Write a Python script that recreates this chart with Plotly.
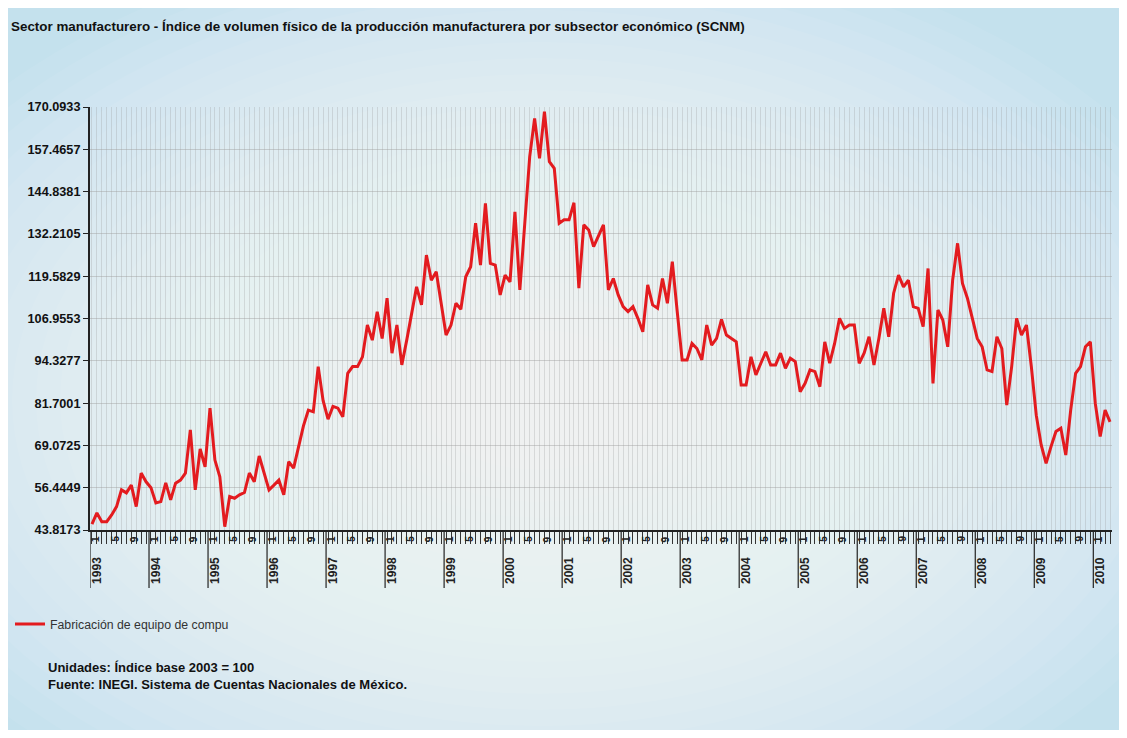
import plotly.graph_objects as go

title = ("Sector manufacturero - Índice de volumen físico de la producción "
         "manufacturera por subsector económico (SCNM)")
series_name = "Fabricación de equipo de compu"
note_lines = ["Unidades: Índice base 2003 = 100",
              "Fuente: INEGI. Sistema de Cuentas Nacionales de México."]

years = list(range(1993, 2011))
labeled_months = [1, 5, 9]

# monthly index values, Jan 1993 .. Apr 2010
values = [
    45.6, 48.9, 46.3, 46.3, 48.3, 50.8, 55.8, 54.9, 57.2, 50.8, 60.8, 58.2,      # 1993
    56.4, 51.9, 52.3, 57.9, 52.8, 57.8, 58.7, 60.8, 73.7, 55.8, 68.0, 62.7,      # 1994
    80.2, 64.7, 59.7, 44.8, 53.8, 53.3, 54.3, 55.0, 60.8, 58.2, 65.9, 60.8,      # 1995
    55.8, 57.2, 58.7, 54.3, 64.2, 62.3, 68.3, 74.9, 79.6, 79.1, 92.6, 82.4,      # 1996
    76.9, 80.7, 80.2, 77.6, 90.6, 92.6, 92.6, 95.5, 105.0, 100.5, 109.0, 101.0,  # 1997
    113.0, 96.6, 105.0, 93.1, 100.5, 109.0, 116.4, 111.0, 125.9, 118.4, 120.9, 111.5,  # 1998
    102.0, 105.0, 111.5, 109.7, 119.4, 122.4, 135.4, 122.9, 141.3, 123.4, 122.9, 114.0,  # 1999
    119.9, 117.9, 138.8, 115.5, 134.9, 155.2, 166.7, 154.8, 168.7, 153.8, 151.8, 135.4,  # 2000
    136.4, 136.4, 141.5, 116.0, 134.9, 133.4, 128.4, 131.5, 134.9, 115.5, 118.9, 114.0,  # 2001
    110.5, 109.0, 110.5, 107.0, 103.0, 117.0, 111.0, 110.0, 118.9, 111.5, 123.9, 109.0,  # 2002
    94.6, 94.6, 99.5, 98.0, 94.6, 105.0, 99.0, 101.0, 106.7, 102.0, 101.0, 100.0,  # 2003
    87.1, 87.1, 95.5, 90.1, 93.6, 97.0, 93.1, 93.1, 96.6, 92.1, 95.1, 94.1,      # 2004
    85.1, 87.6, 91.6, 91.1, 86.6, 100.0, 93.6, 99.5, 107.0, 104.0, 105.0, 105.0,  # 2005
    93.6, 96.6, 101.5, 93.1, 101.0, 110.0, 101.5, 114.5, 119.9, 116.4, 118.4, 110.5,  # 2006
    110.0, 104.5, 121.9, 87.6, 109.5, 106.5, 98.5, 118.4, 129.4, 117.4, 113.0, 106.5,  # 2007
    101.0, 98.5, 91.6, 91.1, 101.5, 98.0, 81.1, 92.6, 107.0, 102.0, 105.0, 92.6,  # 2008
    78.1, 69.2, 63.7, 68.7, 73.2, 74.2, 66.2, 79.6, 90.6, 92.6, 98.5, 100.0,      # 2009
    81.6, 71.7, 79.6, 76.1,                                                       # 2010
]

y_ticks = [43.8173, 56.4449, 69.0725, 81.7001, 94.3277, 106.9553,
           119.5829, 132.2105, 144.8381, 157.4657, 170.0933]

periods = [(yr, m) for yr in years for m in range(1, 13)][:len(values)]
x = list(range(len(values)))
hover = [f"{yr}/{m:02d}" for yr, m in periods]

# figure geometry (page adds an 8px body margin)
OFF = 8
W, H = 1111, 722
ML, MR, MT, MB = 82, 7, 99, 200
PW, PH = W - ML - MR, H - MT - MB


def px_x(p):  # screen pixel -> paper x
    return (p - OFF - ML) / PW


def px_y(p):  # screen pixel -> paper y
    return (H - MB - (p - OFF)) / PH


FONT = "Liberation Sans, Arial, sans-serif"

fig = go.Figure()
fig.add_trace(go.Scatter(
    x=x, y=values, mode="lines", name=series_name, text=hover,
    line=dict(color="#e31b1f", width=3),
    hovertemplate="%{text}: %{y:.4f}<extra></extra>",
))

shapes = []
# soft radial background (blue edges, white centre)
cx, cy = 540, 400
N = 26
for k in range(N):
    rx = 720 - k * 24
    ry = 470 - k * 16
    shapes.append(dict(type="circle", xref="paper", yref="paper", layer="below",
                       x0=px_x(cx - rx), x1=px_x(cx + rx),
                       y0=px_y(cy + ry), y1=px_y(cy - ry),
                       fillcolor="white", opacity=0.062, line=dict(width=0)))

annotations = []
for (yr, m), xi in zip(periods, x):
    if m == 1:
        shapes.append(dict(type="line", xref="x", yref="paper",
                           x0=xi - 0.4, x1=xi - 0.4, y0=0, y1=px_y(588),
                           line=dict(color="#222", width=1.2)))
        annotations.append(dict(x=xi + 0.9, y=px_y(555), xref="x", yref="paper",
                                text=f"<b>{yr}</b>", showarrow=False, textangle=-90,
                                yanchor="top", xanchor="center",
                                font=dict(family=FONT, size=12, color="#222")))
    if m in labeled_months:
        annotations.append(dict(x=xi + 0.6, y=0, xref="x", yref="paper",
                                text=f"<b>{m}</b>", showarrow=False, textangle=-90,
                                yanchor="top", xanchor="center", yshift=-4,
                                font=dict(family=FONT, size=10, color="#222")))

annotations.append(dict(x=px_x(9), y=px_y(27), xref="paper", yref="paper",
                        text=f"<b>{title}</b>", showarrow=False,
                        xanchor="left", yanchor="middle",
                        font=dict(family=FONT, size=13.4, color="#111")))
annotations.append(dict(x=px_x(46), y=px_y(676), xref="paper", yref="paper",
                        text="<b>" + "<br>".join(note_lines) + "</b>",
                        showarrow=False, xanchor="left", yanchor="middle",
                        align="left",
                        font=dict(family=FONT, size=13, color="#111")))

fig.update_layout(
    width=W, height=H, autosize=False,
    margin=dict(l=ML, r=MR, t=MT, b=MB, autoexpand=False),
    paper_bgcolor="#c4e1ed",
    plot_bgcolor="rgba(0,0,0,0)",
    font=dict(family=FONT, color="#222"),
    shapes=shapes,
    annotations=annotations,
    showlegend=True,
    legend=dict(x=px_x(10), y=px_y(624), xanchor="left", yanchor="middle",
                bgcolor="rgba(0,0,0,0)", itemwidth=30,
                font=dict(family=FONT, size=12.3, color="#333")),
)
fig.update_xaxes(
    range=[-0.4, len(values) - 0.6],
    tickmode="array", tickvals=x, ticktext=["" for _ in x],
    ticks="outside", ticklen=12, tickwidth=1, tickcolor="#333",
    showgrid=True, gridcolor="rgba(150,150,150,0.28)", gridwidth=1,
    showline=True, linecolor="#222", linewidth=2, zeroline=False,
)
fig.update_yaxes(
    range=[y_ticks[0], y_ticks[-1]],
    tickmode="array", tickvals=y_ticks,
    ticktext=[f"<b>{v:.4f}</b>" for v in y_ticks],
    ticks="outside", ticklen=5, tickcolor="#222",
    tickfont=dict(family=FONT, size=12.7, color="#111"),
    showgrid=True, gridcolor="rgba(160,160,160,0.45)", gridwidth=1,
    showline=True, linecolor="#222", linewidth=2, zeroline=False,
)

fig.write_html("out.html")
